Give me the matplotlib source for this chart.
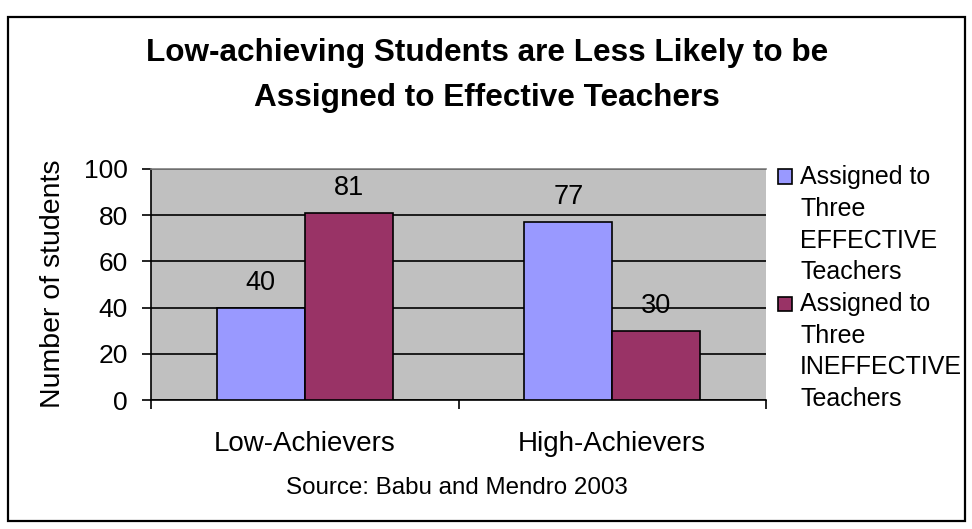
import matplotlib
matplotlib.use("Agg")
import matplotlib.pyplot as plt
from matplotlib.patches import Rectangle
import numpy as np

plt.rcParams['font.family'] = ['Liberation Sans', 'DejaVu Sans']

title = "Low-achieving Students are Less Likely to be\nAssigned to Effective Teachers"
categories = ["Low-Achievers", "High-Achievers"]
series_names = ["Assigned to Three EFFECTIVE Teachers", "Assigned to Three INEFFECTIVE Teachers"]
legend_lines = [["Assigned to", "Three", "EFFECTIVE", "Teachers"],
                ["Assigned to", "Three", "INEFFECTIVE", "Teachers"]]
effective = [40, 77]
ineffective = [81, 30]
yticks = [0, 20, 40, 60, 80, 100]
ylabel = "Number of students"
source = "Source: Babu and Mendro 2003"
colors = ["#9999FF", "#993366"]

W, H = 972, 529
fig = plt.figure(figsize=(W / 100, H / 100), dpi=100)

# outer border
fig.patches.append(Rectangle((8 / W, 1 - 521 / H), (965 - 8) / W, (521 - 17) / H,
                             transform=fig.transFigure, fill=False, edgecolor='black',
                             linewidth=1.6))

ax = fig.add_axes([151 / W, 1 - 400 / H, (766 - 151) / W, (400 - 169) / H])
ax.set_facecolor("#C0C0C0")

x = np.arange(len(categories))
bw = 0.286
series = [effective, ineffective]
for i, (vals, c) in enumerate(zip(series, colors)):
    xs = x + (i - 0.5) * bw
    ax.bar(xs, vals, width=bw, color=c, edgecolor='black', linewidth=1.2, zorder=3)
    for xi, v in zip(xs, vals):
        ax.annotate(str(v), (xi, v), xytext=(0, 18), textcoords='offset points',
                    ha='center', va='center', fontsize=19.5, zorder=4)

ax.set_xlim(-0.5, len(categories) - 0.5)
ax.set_ylim(0, 100)
ax.set_yticks(yticks)
ax.tick_params(axis='y', labelsize=19, length=6.5, width=1.2, pad=10, direction='out')
ax.yaxis.grid(True, color='black', linewidth=1.2, zorder=1)
ax.set_axisbelow(True)

ax.set_xticks(x)
ax.set_xticklabels(categories, fontsize=20)
ax.tick_params(axis='x', which='major', length=0, pad=22)
ax.set_xticks(np.arange(-0.5, len(categories), 1.0), minor=True)
ax.tick_params(axis='x', which='minor', length=6.5, width=1.2, direction='out')

ax.spines['top'].set_color('#808080')
ax.spines['top'].set_linewidth(1.2)
ax.spines['right'].set_visible(False)
for s in ['left', 'bottom']:
    ax.spines[s].set_color('black')
    ax.spines[s].set_linewidth(1.2)

fig.text(53 / W, 1 - 284 / H, ylabel, rotation=90, ha='center', va='center', fontsize=20.5)
fig.text(487 / W, 1 - 75.5 / H, title, ha='center', va='center', fontsize=22.7,
         fontweight='bold', linespacing=1.66)
fig.text(457 / W, 1 - 488 / H, source, ha='center', va='center', fontsize=17.4)

# legend
pitch = 31.75
y0 = 177
for g, (lines, c) in enumerate(zip(legend_lines, colors)):
    for j, line in enumerate(lines):
        yy = y0 + (g * 4 + j) * pitch
        fig.text(800 / W, 1 - yy / H, line, ha='left', va='center', fontsize=18)
    yy = 176.5 + g * 4 * pitch
    fig.patches.append(Rectangle((778 / W, 1 - (yy + 7) / H), 14 / W, 14 / H,
                                 transform=fig.transFigure, facecolor=c,
                                 edgecolor='black', linewidth=1.2))

fig.savefig("out.png", dpi=100)
